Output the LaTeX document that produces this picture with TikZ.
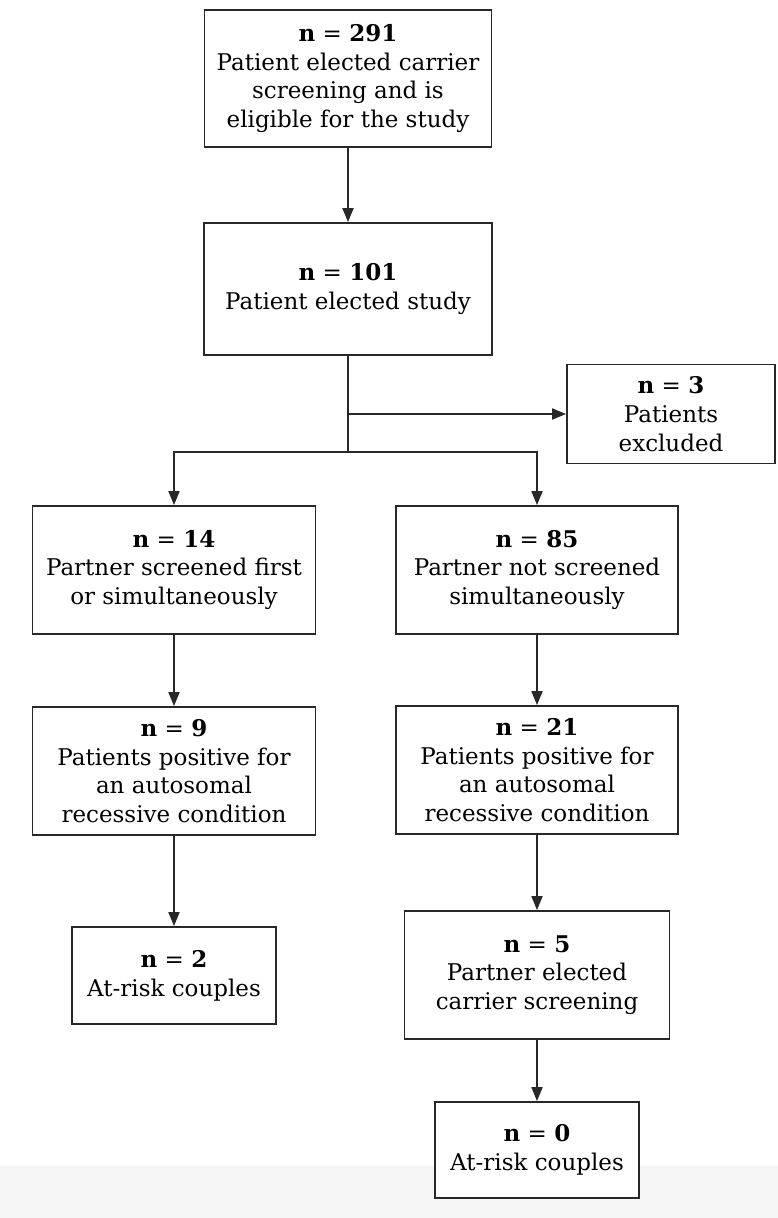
\documentclass[tikz,border=0pt]{standalone}
\usepackage{fontspec}
\setmainfont{DejaVu Serif}
\definecolor{myline}{RGB}{40,40,40}
\definecolor{myband}{RGB}{245,245,245}
\usetikzlibrary{arrows.meta,positioning}

\begin{document}
\begin{tikzpicture}[x=1pt,y=-1pt,
    every node/.style={draw=myline,line width=1.8pt,fill=white,align=center,
      inner sep=0pt,font=\fontsize{23}{28.7}\selectfont},
    link/.style={draw=myline,line width=1.8pt},
    flow/.style={link,-{Triangle[length=14pt,width=11pt]}}
    ]
    \useasboundingbox (0,0) rectangle (778,1218);
    \fill[myband] (0,1166) rectangle (778,1218);

    % the boxes
    \node (elig) [minimum width=287pt,minimum height=137pt] at (348,78.5)
      {\textbf{n} = \textbf{291}\\Patient elected carrier\\screening and is\\eligible for the study};
    \node (study) [minimum width=288pt,minimum height=132pt] at (348,289)
      {\textbf{n} = \textbf{101}\\Patient elected study};
    \node (excl) [minimum width=208pt,minimum height=99pt] at (671,414)
      {\textbf{n} = \textbf{3}\\Patients\\excluded};
    \node (first) [minimum width=283pt,minimum height=128pt] at (174,570)
      {\textbf{n} = \textbf{14}\\Partner screened first\\or simultaneously};
    \node (notsim) [minimum width=282pt,minimum height=128pt] at (537,570)
      {\textbf{n} = \textbf{85}\\Partner not screened\\simultaneously};
    \node (posl) [minimum width=283pt,minimum height=128pt] at (174,771)
      {\textbf{n} = \textbf{9}\\Patients positive for\\an autosomal\\recessive condition};
    \node (posr) [minimum width=282pt,minimum height=128pt] at (537,770)
      {\textbf{n} = \textbf{21}\\Patients positive for\\an autosomal\\recessive condition};
    \node (riskl) [minimum width=204pt,minimum height=97pt] at (174,975.5)
      {\textbf{n} = \textbf{2}\\At-risk couples};
    \node (partn) [minimum width=265pt,minimum height=128pt] at (537,975)
      {\textbf{n} = \textbf{5}\\Partner elected\\carrier screening};
    \node (riskr) [minimum width=204pt,minimum height=96pt] at (537,1150)
      {\textbf{n} = \textbf{0}\\At-risk couples};

    \coordinate (split) at (348,452);

    % the edges
    \draw[flow] (elig) -- (study);
    \draw[link] (study) -- (split);
    \draw[flow] (study.south |- excl) -- (excl);
    \draw[flow] (split) -| (first);
    \draw[flow] (split) -| (notsim);
    \draw[flow] (first) -- (posl);
    \draw[flow] (posl) -- (riskl);
    \draw[flow] (notsim) -- (posr);
    \draw[flow] (posr) -- (partn);
    \draw[flow] (partn) -- (riskr);
\end{tikzpicture}
\end{document}
